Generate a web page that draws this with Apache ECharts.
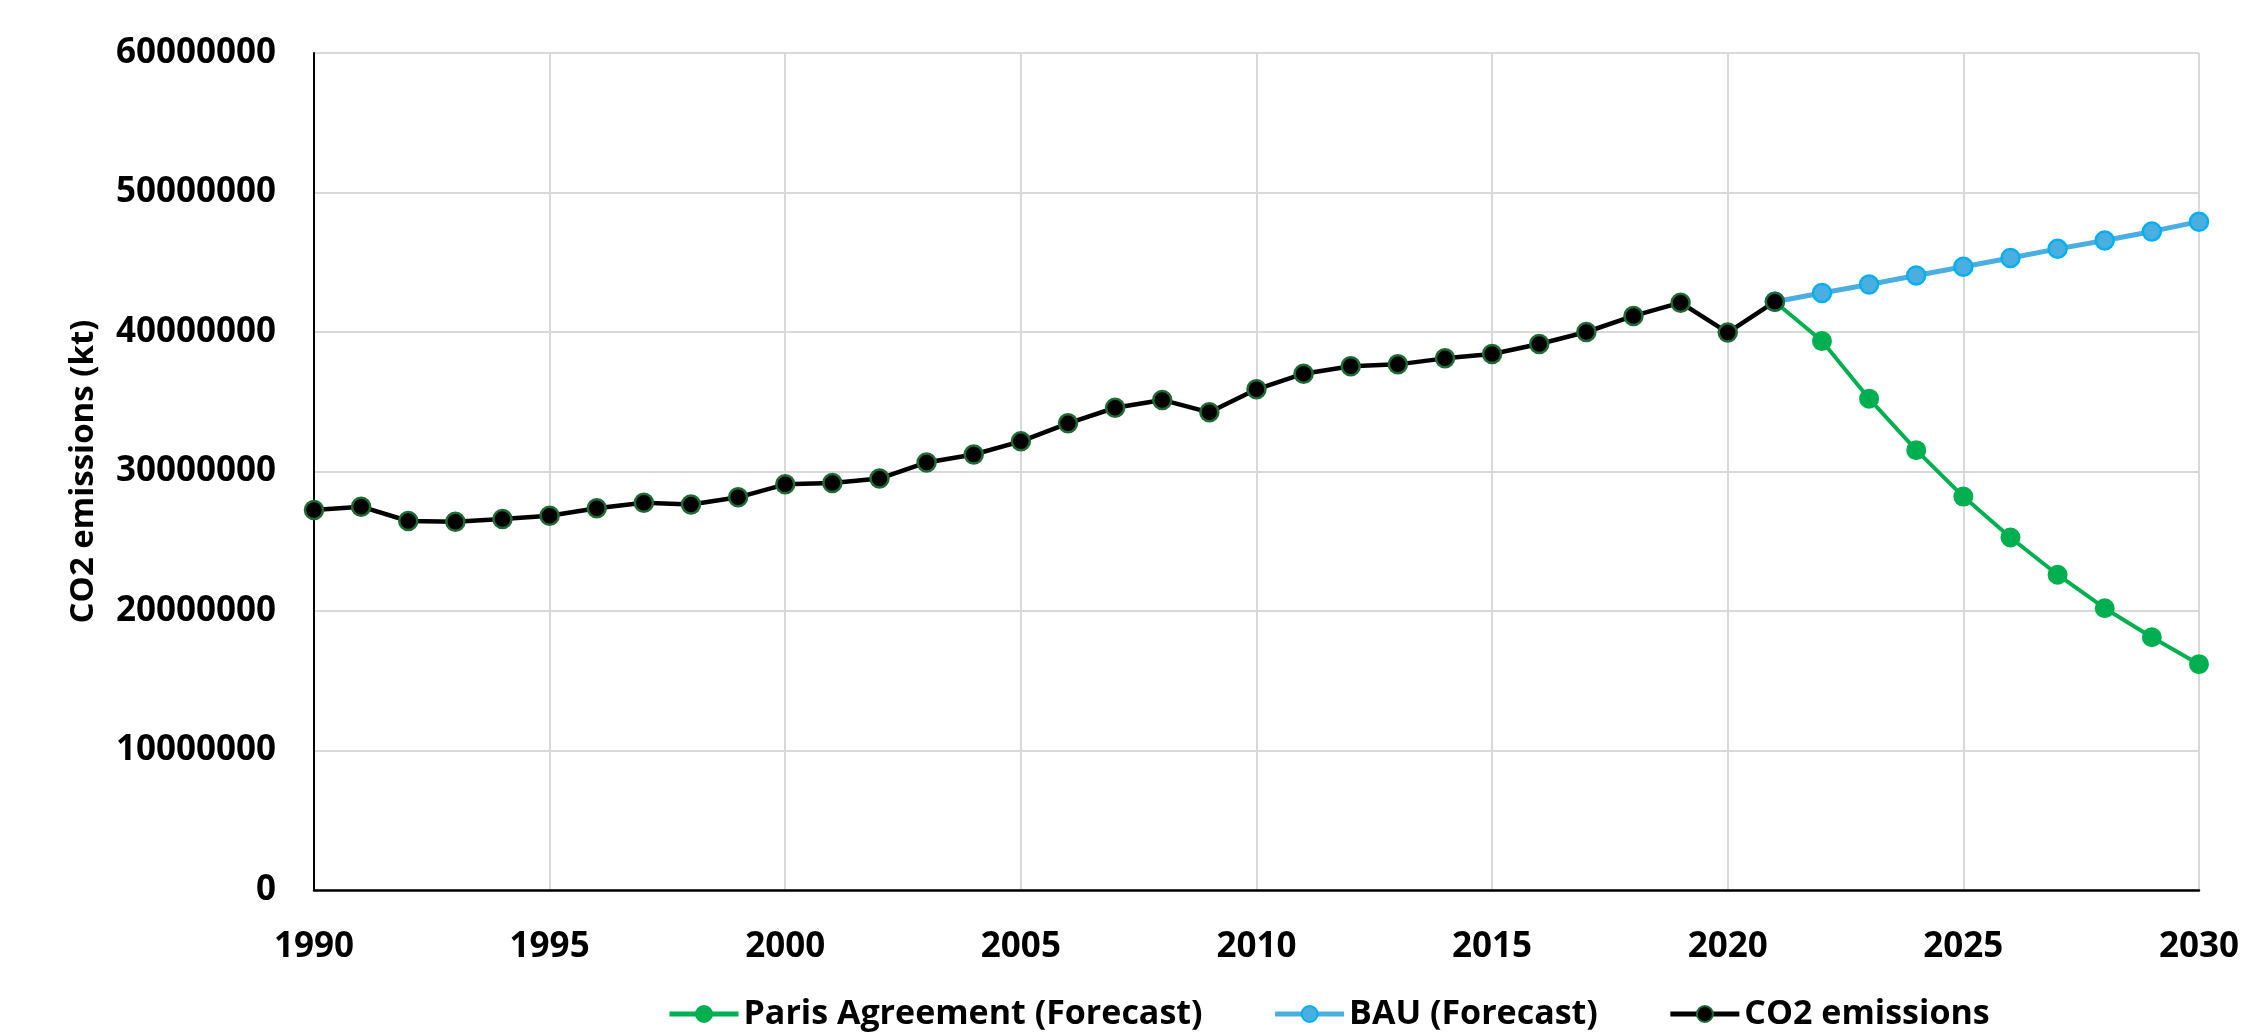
<!DOCTYPE html>
<html>
<head>
<meta charset="utf-8">
<script src="https://cdn.jsdelivr.net/npm/echarts@6/dist/echarts.min.js"></script>
<style>
html,body{margin:0;padding:0;background:#fff;}
#chart{width:2242px;height:1033px;}
</style>
</head>
<body>
<div id="chart"></div>
<script>
// Historical data
const histYears = [1990,1991,1992,1993,1994,1995,1996,1997,1998,1999,2000,2001,2002,2003,2004,2005,2006,2007,2008,2009,2010,2011,2012,2013,2014,2015,2016,2017,2018,2019,2020,2021];
const co2Emissions = [27240000,27480000,26450000,26400000,26600000,26830000,27360000,27760000,27640000,28150000,29080000,29180000,29490000,30650000,31220000,32160000,33450000,34570000,35130000,34240000,35890000,37010000,37540000,37680000,38110000,38420000,39140000,40000000,41150000,42100000,39960000,42170000];
// Forecasts
const forecastYears = [2021,2022,2023,2024,2025,2026,2027,2028,2029,2030];
const bauForecast = [42170000,42800000,43400000,44050000,44680000,45310000,45960000,46560000,47210000,47910000];
const parisForecast = [42170000,39350000,35220000,31530000,28200000,25270000,22600000,20200000,18120000,16190000];
// Axis ticks / names
const seriesNames = ['Paris Agreement (Forecast)','BAU (Forecast)','CO2 emissions'];
const yAxisTitle = 'CO2 emissions (kt)';

const pair = (xs, ys) => xs.map((x, i) => [x, ys[i]]);
const FONT = 'Open Sans';

const chart = echarts.init(document.getElementById('chart'), null, {renderer:'canvas'});
chart.setOption({
  animation: false,
  backgroundColor: '#ffffff',
  grid: {left: 314, right: 36, top: 53, bottom: 143, containLabel: false},
  xAxis: {
    type: 'value', min: 1990, max: 2030, interval: 5,
    axisLine: {show: true, onZero: false, lineStyle: {color: '#000', width: 2.5}},
    axisTick: {show: false},
    splitLine: {show: true, lineStyle: {color: '#d9d9d9', width: 2}},
    axisLabel: {formatter: v => String(v), color: '#000', fontFamily: FONT, fontWeight: 'bold', fontSize: 35, margin: 40}
  },
  yAxis: {
    type: 'value', min: 0, max: 60000000, interval: 10000000,
    name: yAxisTitle, nameLocation: 'middle', nameGap: 214,
    nameTextStyle: {color: '#000', fontFamily: FONT, fontWeight: 'bold', fontSize: 33},
    axisLine: {show: true, lineStyle: {color: '#000', width: 2}},
    axisTick: {show: false},
    splitLine: {show: true, lineStyle: {color: '#d9d9d9', width: 2}},
    axisLabel: {formatter: v => String(v), color: '#000', fontFamily: FONT, fontWeight: 'bold', fontSize: 35, margin: 38}
  },
  legend: {
    left: 662, top: 992, itemWidth: 69, itemHeight: 20, itemGap: 70,
    lineStyle: {width: 5},
    textStyle: {color: '#000', fontFamily: FONT, fontWeight: 'bold', fontSize: 34},
    data: seriesNames
  },
  series: [
    {
      name: seriesNames[0], type: 'line', data: pair(forecastYears, parisForecast),
      symbol: 'circle', symbolSize: 18, z: 2,
      lineStyle: {color: '#00B050', width: 4},
      itemStyle: {color: '#00B050', borderColor: '#00B050', borderWidth: 2}
    },
    {
      name: seriesNames[1], type: 'line', data: pair(forecastYears, bauForecast),
      symbol: 'circle', symbolSize: 18, z: 3,
      lineStyle: {color: '#4BAEE0', width: 5},
      itemStyle: {color: '#4BAEE0', borderColor: '#00B0F0', borderWidth: 2.5}
    },
    {
      name: seriesNames[2], type: 'line', data: pair(histYears, co2Emissions),
      symbol: 'circle', symbolSize: 18, z: 4,
      lineStyle: {color: '#000000', width: 4.5},
      itemStyle: {color: '#000000', borderColor: '#1E6B35', borderWidth: 2.5}
    }
  ]
});
</script>
</body>
</html>
